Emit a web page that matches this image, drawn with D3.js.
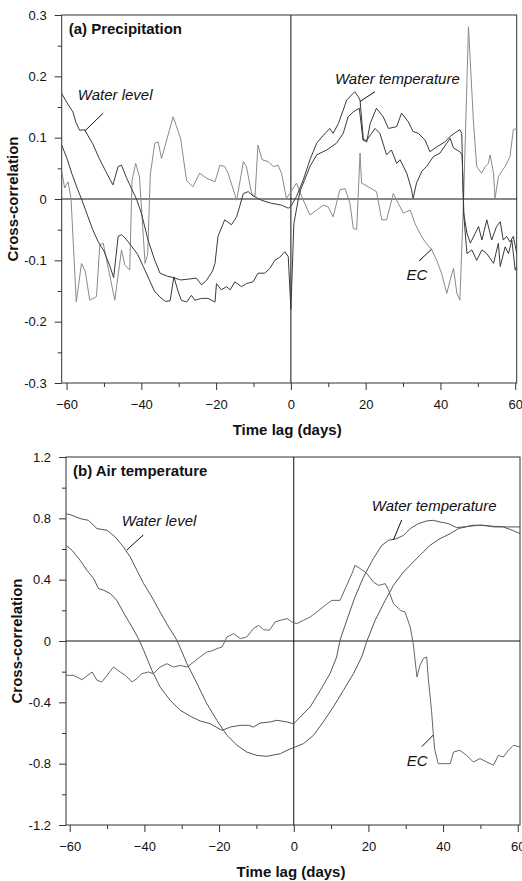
<!DOCTYPE html>
<html lang="en">
<head>
<meta charset="UTF-8" />
<title>Cross-correlation</title>
<script src="https://d3js.org/d3.v7.min.js"></script>
<style>
  body { margin: 0; background: #fff; }
  text { font-family: "Liberation Sans", Arial, sans-serif; }
  .tick text { font-size: 13px; fill: #111; }
  .tick line { stroke: #333; }
  .title { font-size: 15px; font-weight: bold; fill: #111; }
  .note { font-size: 15px; font-style: italic; fill: #111; }
</style>
</head>
<body>
<svg width="522" height="881"></svg>
<script>
// lag ticks (days)
var lagTicks = [-60, -40, -20, 0, 20, 40, 60];
var lagMinor = [-50, -30, -10, 10, 30, 50];
var rTicksA = [-0.3, -0.2, -0.1, 0, 0.1, 0.2, 0.3];
var rMinorA = [-0.25, -0.15, -0.05, 0.05, 0.15, 0.25];
var rTicksB = [-1.2, -0.8, -0.4, 0, 0.4, 0.8, 1.2];
var rMinorB = [-1.0, -0.6, -0.2, 0.2, 0.6, 1.0];

// (a) Precipitation: [lag, r]
var levelA = [[-61.3,0.172],[-60,0.158],[-58.3,0.142],[-57.5,0.125],[-56.5,0.112],[-55.2,0.113],[-53,0.09],[-51.1,0.064],[-49.5,0.045],[-47.6,0.023],[-46.2,0.053],[-45.3,0.055],[-44,0.035],[-42.7,0.018],[-41.3,0.0],[-40,-0.023],[-38.2,-0.067],[-36.4,-0.1],[-35,-0.121],[-33,-0.126],[-31.5,-0.128],[-29.5,-0.132],[-27.9,-0.131],[-25.3,-0.129],[-23.9,-0.14],[-22.6,-0.133],[-21,-0.118],[-20.3,-0.105],[-19.5,-0.061],[-17.7,-0.034],[-15.9,-0.042],[-14.5,-0.029],[-12.7,0.009],[-11.4,0.012],[-10.1,0.005],[-7.9,-0.002],[-5.2,-0.007],[-2.5,-0.01],[-0.7,-0.015],
  [0,-0.012],[1.5,0.004],[3.3,0.031],[5.1,0.064],[6.9,0.091],[8.7,0.104],[10.4,0.115],[11.3,0.107],[12.7,0.123],[14,0.145],[14.9,0.161],[16.3,0.17],[17.1,0.175],[18,0.167],[18.5,0.161],[19.4,0.096],[20.3,0.093],[21.2,0.123],[22.9,0.148],[24.7,0.134],[26.1,0.115],[28.3,0.118],[29.6,0.14],[31.4,0.126],[32.7,0.11],[34.1,0.107],[35.9,0.096],[37.2,0.077],[39,0.085],[41.2,0.093],[42.6,0.102],[44.4,0.11],[45.2,0.113],[45.7,0.107],[46.2,-0.023],[47.1,-0.056],[48,-0.072],[49.3,-0.056],[50.2,-0.045],[51.1,-0.067],[52.4,-0.034],[53.7,-0.067],[55,-0.045],[56,-0.037],[56.8,-0.067],[57.7,-0.061],[58.6,-0.07],[59.5,-0.061],[60.4,-0.088]];

var tempA = [[-61.3,0.088],[-60,0.068],[-58.5,0.04],[-57,0.015],[-56,0.0],[-54.5,-0.025],[-53,-0.05],[-51.5,-0.07],[-50,-0.085],[-48.5,-0.108],[-47.4,-0.128],[-46.2,-0.061],[-45.3,-0.058],[-44,-0.066],[-42.5,-0.078],[-41,-0.09],[-39.5,-0.11],[-38,-0.13],[-36.5,-0.15],[-35,-0.16],[-33.5,-0.167],[-32.3,-0.166],[-31.3,-0.127],[-30.2,-0.15],[-29.3,-0.165],[-27.9,-0.168],[-26.6,-0.157],[-25.7,-0.165],[-23.9,-0.162],[-22.2,-0.162],[-20.3,-0.168],[-19.9,-0.138],[-18.6,-0.148],[-17.2,-0.143],[-16.2,-0.148],[-15,-0.135],[-13.2,-0.143],[-11.9,-0.138],[-10.1,-0.135],[-8.8,-0.121],[-7,-0.121],[-5.6,-0.113],[-4.3,-0.1],[-3,-0.095],[-1.6,-0.086],[-0.7,-0.094],[0,-0.18],
  [0.8,-0.04],[2,0.0],[2.6,0.015],[3.6,0.03],[5.1,0.053],[6.9,0.072],[9.6,0.08],[12.2,0.091],[14,0.107],[15.3,0.134],[16.7,0.142],[18.3,0.148],[19.3,0.096],[20.3,0.096],[22.5,0.115],[23.8,0.107],[25.6,0.072],[26.9,0.08],[28.3,0.058],[29.2,0.064],[31,0.042],[32.2,0.017],[32.7,0.001],[33.6,0.026],[35,0.045],[36.3,0.053],[38.1,0.069],[39.9,0.075],[41.7,0.091],[42.6,0.099],[43.5,0.083],[45.2,0.077],[45.8,0.072],[46.3,-0.03],[47.1,-0.089],[48.4,-0.083],[49.7,-0.1],[51.1,-0.083],[52.4,-0.089],[54.2,-0.105],[55.5,-0.072],[56,-0.11],[57.3,-0.078],[58.2,-0.089],[59.1,-0.067],[60,-0.116],[60.4,-0.11]];

var ecA = [[-61.3,0.045],[-60.5,0.018],[-59.6,0.028],[-58.8,0.0],[-57.4,-0.168],[-56,-0.105],[-55,-0.118],[-53.8,-0.165],[-52,-0.159],[-51.1,-0.075],[-50.2,-0.072],[-47.1,-0.165],[-45.3,-0.083],[-44.4,-0.108],[-43.1,-0.116],[-42.5,0.03],[-41.5,0.058],[-40.5,0.036],[-39,-0.105],[-38.3,-0.09],[-37.6,0.04],[-36.4,0.091],[-35.5,0.093],[-34.6,0.066],[-31.5,0.134],[-29.5,0.099],[-27.9,0.03],[-26.2,0.02],[-24.4,0.042],[-22.6,0.034],[-20.3,0.028],[-19,0.055],[-17.7,0.053],[-16.8,0.042],[-14.5,-0.002],[-12.7,0.061],[-11.9,0.053],[-10.5,0.009],[-9.6,0.004],[-8.8,0.088],[-7.7,0.064],[-6.1,0.061],[-4.7,0.053],[-3.4,0.055],[-2.5,0.042],[-1.2,0.001],[-0.3,0.009],[1.5,0.026],[2.9,0.004],[5.1,-0.026],[6.9,-0.018],[8.7,-0.01],[10,-0.013],[11.3,-0.029],[13.1,0.015],[14.5,0.017],[15.8,-0.007],[16.7,-0.048],[17.6,-0.05],[18.5,0.075],[18.9,0.026],[19.8,0.023],[22.9,0.012],[24.3,-0.034],[25.6,-0.034],[27.4,0.009],[28.7,-0.007],[30.1,-0.023],[31.9,-0.018],[33.2,-0.04],[34.5,-0.056],[35.9,-0.07],[37.7,-0.083],[39,-0.1],[40.3,-0.121],[41.7,-0.154],[42.6,-0.132],[43.5,-0.113],[44.4,-0.154],[45.2,-0.165],[46.2,0.0],[47.5,0.281],[48.8,0.129],[49.7,0.053],[51,0.042],[52,0.053],[52.8,0.058],[53.3,0.072],[54.2,0.042],[54.6,0.001],[55.5,0.036],[56.4,0.045],[57.3,0.053],[58.6,0.069],[59.5,0.113],[60.4,0.115]];

// (b) Air temperature: [lag, r]
var levelB = [[-61,0.831],[-59.4,0.82],[-57.2,0.798],[-55,0.787],[-52.7,0.733],[-50,0.722],[-47.8,0.678],[-45.6,0.613],[-43.8,0.548],[-42,0.461],[-40.2,0.374],[-38,0.287],[-35.8,0.189],[-33.5,0.091],[-31.8,0.026],[-30.9,-0.017],[-28.6,-0.148],[-25.9,-0.278],[-23.3,-0.408],[-20.6,-0.517],[-17.9,-0.615],[-15.2,-0.68],[-12.6,-0.724],[-9.9,-0.746],[-7.2,-0.752],[-3.6,-0.735],[-1.8,-0.713],[0,-0.695],[2.6,-0.669],[5.3,-0.615],[7.9,-0.528],[10.6,-0.43],[13.3,-0.322],[16,-0.213],[18.2,-0.104],[19.6,0.0],[21.8,0.135],[24.5,0.265],[26.7,0.363],[29.4,0.45],[32,0.515],[34.7,0.581],[36.5,0.624],[39.2,0.668],[41.9,0.7],[44.1,0.733],[46.8,0.748],[49.9,0.755],[53.5,0.748],[57,0.744],[60.6,0.744]];

var tempB = [[-61,0.624],[-59.4,0.592],[-57.2,0.526],[-55.4,0.461],[-53.6,0.407],[-52.3,0.342],[-50.9,0.331],[-49.1,0.309],[-47.4,0.265],[-45.2,0.168],[-43.3,0.091],[-41.6,0.016],[-40.2,-0.061],[-38,-0.191],[-35.8,-0.3],[-33.1,-0.387],[-30.4,-0.452],[-27.3,-0.496],[-25,-0.522],[-22.4,-0.539],[-19.2,-0.583],[-17,-0.561],[-14.3,-0.55],[-12.1,-0.55],[-10.8,-0.561],[-9,-0.535],[-6.3,-0.528],[-4.5,-0.517],[-1.8,-0.528],[0,-0.54],[1.7,-0.496],[4.4,-0.43],[7.1,-0.322],[9.7,-0.213],[11.5,-0.104],[12.4,0.005],[14.2,0.135],[16.4,0.287],[18.7,0.418],[21.3,0.537],[23.6,0.624],[25.4,0.657],[27.6,0.668],[29.4,0.689],[31.2,0.733],[33.4,0.766],[35.6,0.783],[37.4,0.787],[39.2,0.776],[41.4,0.766],[43.6,0.74],[46,0.745],[48.1,0.755],[50.8,0.755],[53.5,0.744],[56.1,0.744],[58.8,0.72],[60.6,0.7]];

var ecB = [[-61,-0.224],[-59,-0.224],[-56.7,-0.252],[-54,-0.202],[-52.7,-0.256],[-51.4,-0.267],[-50,-0.224],[-48.3,-0.17],[-46.5,-0.202],[-45.1,-0.224],[-43.3,-0.267],[-42,-0.245],[-40.7,-0.213],[-38.9,-0.202],[-37.6,-0.213],[-35.8,-0.17],[-34,-0.148],[-32.2,-0.17],[-30.4,-0.159],[-28.6,-0.17],[-26.8,-0.137],[-25.1,-0.104],[-23.3,-0.072],[-22,-0.065],[-20.6,-0.05],[-19.2,-0.039],[-17.9,0.026],[-16.1,0.048],[-14.3,0.016],[-12.6,0.026],[-10.8,0.081],[-9.4,0.102],[-8.1,0.074],[-6.5,0.07],[-5,0.124],[-3.6,0.135],[-1.8,0.146],[-0.5,0.124],[0.8,0.113],[2.6,0.135],[4.4,0.157],[6.2,0.189],[8.4,0.233],[10.2,0.265],[12.4,0.265],[13.8,0.342],[15.6,0.44],[16.4,0.494],[17.8,0.472],[19.6,0.44],[21.3,0.385],[22.7,0.363],[24.5,0.374],[25.4,0.331],[26.7,0.244],[28.6,0.2],[29.8,0.189],[31.2,0.091],[32,-0.017],[33,-0.235],[33.8,-0.159],[34.7,-0.115],[35.6,-0.104],[36,-0.235],[36.9,-0.452],[37.4,-0.615],[37.8,-0.713],[38.7,-0.8],[40.1,-0.8],[41.9,-0.8],[42.8,-0.724],[44.5,-0.713],[46.3,-0.746],[48.1,-0.789],[49.9,-0.767],[51.7,-0.789],[53.5,-0.81],[54.8,-0.746],[56.1,-0.757],[57.5,-0.713],[58.8,-0.68],[60.6,-0.691]];

var svg = d3.select("svg");
svg.append("rect").attr("width", 522).attr("height", 881).attr("fill", "#fff");

function panel(cfg) {
  var x = d3.scaleLinear().domain(cfg.xDom).range([cfg.left, cfg.right]);
  var y = d3.scaleLinear().domain(cfg.yDom).range([cfg.bottom, cfg.top]);
  var g = svg.append("g");

  // clip
  g.append("clipPath").attr("id", cfg.id)
   .append("rect")
   .attr("x", cfg.left).attr("y", cfg.top)
   .attr("width", cfg.right - cfg.left).attr("height", cfg.bottom - cfg.top);

  // axes
  var fmt = function(d) { return d === 0 ? "0" : d.toFixed(1); };
  var xa = g.append("g").attr("transform", "translate(0," + cfg.bottom + ")")
    .call(d3.axisBottom(x).tickValues(lagTicks).tickSize(7).tickSizeOuter(0).tickPadding(5).tickFormat(d3.format("d")));
  xa.select(".domain").remove();
  xa.selectAll("text").attr("dy", "1.1em");
  var xm = g.append("g").attr("transform", "translate(0," + cfg.bottom + ")")
    .call(d3.axisBottom(x).tickValues(lagMinor).tickSize(4).tickFormat(""));
  xm.select(".domain").remove();

  var ya = g.append("g").attr("transform", "translate(" + cfg.left + ",0)")
    .call(d3.axisLeft(y).tickValues(cfg.yTicks).tickSize(7).tickSizeOuter(0).tickPadding(8).tickFormat(fmt));
  ya.select(".domain").remove();
  var ym = g.append("g").attr("transform", "translate(" + cfg.left + ",0)")
    .call(d3.axisLeft(y).tickValues(cfg.yMinor).tickSize(4).tickFormat(""));
  ym.select(".domain").remove();

  // frame
  g.append("rect")
   .attr("x", cfg.left).attr("y", cfg.top)
   .attr("width", cfg.right - cfg.left).attr("height", cfg.bottom - cfg.top)
   .attr("fill", "none").attr("stroke", "#333").attr("stroke-width", 1);

  // zero lines
  g.append("line").attr("x1", cfg.left).attr("x2", cfg.right)
   .attr("y1", y(0)).attr("y2", y(0)).attr("stroke", "#111");
  g.append("line").attr("x1", x(0)).attr("x2", x(0))
   .attr("y1", cfg.top).attr("y2", cfg.bottom).attr("stroke", "#111");

  var line = d3.line().x(function(d) { return x(d[0]); }).y(function(d) { return y(d[1]); });
  var lines = g.append("g").attr("clip-path", "url(#" + cfg.id + ")");
  cfg.series.forEach(function(s) {
    lines.append("path").datum(s.data)
      .attr("d", line).attr("fill", "none")
      .attr("stroke", s.color).attr("stroke-width", 1)
      .attr("stroke-linejoin", "round");
  });

  // labels with leader lines
  cfg.notes.forEach(function(n) {
    g.append("text").attr("class", "note")
     .attr("x", x(n.at[0])).attr("y", y(n.at[1])).text(n.text);
    g.append("line")
     .attr("x1", x(n.from[0])).attr("y1", y(n.from[1]))
     .attr("x2", x(n.to[0])).attr("y2", y(n.to[1]))
     .attr("stroke", "#111").attr("stroke-width", 1);
  });

  g.append("text").attr("class", "title")
   .attr("x", cfg.left + 7).attr("y", cfg.top + 19).text(cfg.title);

  g.append("text").attr("class", "title")
   .attr("text-anchor", "middle")
   .attr("x", (cfg.left + cfg.right) / 2 - 2).attr("y", cfg.bottom + 52)
   .text("Time lag (days)");

  g.append("text").attr("class", "title")
   .attr("text-anchor", "middle")
   .attr("transform", "translate(" + (cfg.left - 44) + "," + ((cfg.top + cfg.bottom) / 2) + ") rotate(-90)")
   .text("Cross-correlation");
}

panel({
  id: "clipA", title: "(a) Precipitation",
  left: 61.7, right: 516.7, top: 15, bottom: 383,
  xDom: [-61.3, 60.4], yDom: [-0.3, 0.3],
  yTicks: rTicksA, yMinor: rMinorA,
  series: [
    { data: ecA, color: "#8a8a8a" },
    { data: tempA, color: "#3a3a3a" },
    { data: levelA, color: "#3a3a3a" }
  ],
  notes: [
    { text: "Water level", at: [-57.0, 0.162], from: [-50.2, 0.140], to: [-55.1, 0.111] },
    { text: "Water temperature", at: [11.8, 0.1875], from: [22.5, 0.175], to: [18.5, 0.159] },
    { text: "EC", at: [30.9, -0.132], from: [34.3, -0.101], to: [37.6, -0.082] }
  ]
});

panel({
  id: "clipB", title: "(b) Air temperature",
  left: 66, right: 520, top: 457, bottom: 825,
  xDom: [-61, 60.6], yDom: [-1.2, 1.2],
  yTicks: rTicksB, yMinor: rMinorB,
  series: [
    { data: ecB, color: "#666" },
    { data: tempB, color: "#555" },
    { data: levelB, color: "#555" }
  ],
  notes: [
    { text: "Water level", at: [-46.1, 0.747], from: [-40.3, 0.692], to: [-44.7, 0.593] },
    { text: "Water temperature", at: [20.9, 0.848], from: [28.9, 0.789], to: [26.7, 0.659] },
    { text: "EC", at: [30.3, -0.818], from: [34.3, -0.689], to: [37.4, -0.613] }
  ]
});
</script>
</body>
</html>
